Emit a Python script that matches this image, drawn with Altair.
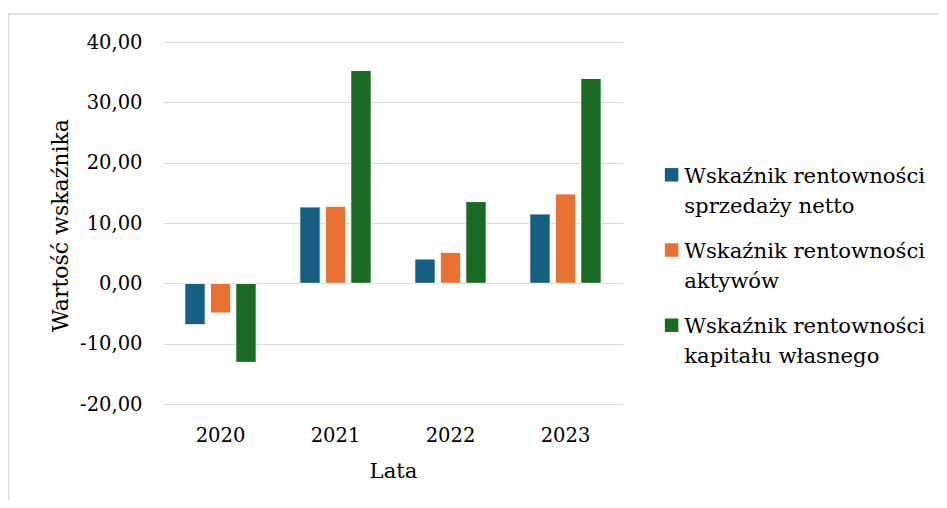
import altair as alt
import pandas as pd

years = ["2020", "2021", "2022", "2023"]
series = [
    "Wskaźnik rentowności sprzedaży netto",
    "Wskaźnik rentowności aktywów",
    "Wskaźnik rentowności kapitału własnego",
]
sprzedaz = [-6.86, 12.67, 4.04, 11.50]
aktywa = [-4.92, 12.78, 5.14, 14.82]
kapital = [-13.10, 35.29, 13.55, 33.96]
colors = ["#156082", "#E97132", "#196B24"]
y_ticks = [-20, -10, 0, 10, 20, 30, 40]

rows = []
for s, vals in zip(series, [sprzedaz, aktywa, kapital]):
    for yr, v in zip(years, vals):
        rows.append({"Lata": yr, "Seria": s, "Wartosc": v})
df = pd.DataFrame(rows)

FONT = "DejaVu Serif"
LBL = 19.5
YTTL = 22
XTTL = 21.2
LEG = 21.2

bars = alt.Chart(df).mark_bar(stroke="white", strokeWidth=1).encode(
    x=alt.X(
        "Lata:N",
        sort=years,
        scale=alt.Scale(paddingInner=0.335, paddingOuter=0.1675),
        axis=alt.Axis(
            title="Lata",
            labelAngle=0,
            labelFont=FONT,
            labelFontSize=LBL,
            labelBaseline="alphabetic",
            labelPadding=37,
            ticks=False,
            tickSize=0,
            domain=False,
            grid=False,
            labelColor="#000000",
            titleColor="#000000",
            titleFont=FONT,
            titleFontSize=XTTL,
            titleFontWeight="normal",
            titleBaseline="alphabetic",
            titleX=230,
            titleY=73.5,
        ),
    ),
    xOffset=alt.XOffset(
        "Seria:N", sort=series, scale=alt.Scale(paddingInner=0.2, paddingOuter=0.1)
    ),
    y=alt.Y(
        "Wartosc:Q",
        scale=alt.Scale(domain=[-20, 40], nice=False, zero=False),
        axis=alt.Axis(
            title="Wartość wskaźnika",
            values=y_ticks,
            labelExpr="(datum.value < 0 ? '-' : '') + replace(format(abs(datum.value), '.2f'), '.', ',')",
            labelFont=FONT,
            labelFontSize=LBL,
            labelPadding=21,
            ticks=False,
            tickSize=0,
            domain=False,
            grid=True,
            gridColor="#d9d9d9",
            gridWidth=1.2,
            labelColor="#000000",
            titleColor="#000000",
            titleFont=FONT,
            titleFontSize=YTTL,
            titleFontWeight="normal",
            titleBaseline="alphabetic",
            titleAngle=-90,
            titleX=-96,
            titleY=183,
        ),
    ),
    color=alt.Color(
        "Seria:N",
        sort=series,
        scale=alt.Scale(domain=series, range=colors),
        legend=alt.Legend(
            title=None,
            orient="none",
            legendX=498,
            legendY=112.9,
            padding=0,
            labelExpr="[substring(datum.label, 0, 20), substring(datum.label, 21)]",
            labelFont=FONT,
            labelFontSize=LEG,
            labelColor="#000000",
            labelLimit=400,
            labelBaseline="top",
            labelOffset=2,
            symbolType="M-1,0.38H1V2.38H-1Z",
            symbolSize=182,
            symbolStrokeWidth=0,
            symbolOpacity=1,
            rowPadding=13.2,
        ),
    ),
)

frame = alt.Chart(alt.Data(values=[{"a": 1}])).mark_rect(
    fill=None, stroke="#d9d9d9", strokeWidth=1.5
).encode(
    x=alt.value(-154.5),
    x2=alt.value(900),
    y=alt.value(-28),
    y2=alt.value(700),
)

chart = (
    alt.layer(frame, bars)
    .properties(
        width=460,
        height=362,
        autosize=alt.AutoSizeParams(type="none"),
        padding={"left": 155, "top": 34, "right": 316, "bottom": 96},
    )
    .configure(
        font=FONT,
        background="white",
        style={"guide-label": {"lineHeight": 30, "font": FONT}, "guide-title": {"font": FONT}},
    )
    .configure_axis(labelFont=FONT, titleFont=FONT)
    .configure_legend(labelFont=FONT, titleFont=FONT)
    .configure_view(stroke=None)
)

chart.save("out.html", embed_options={"renderer": "svg", "actions": False})
